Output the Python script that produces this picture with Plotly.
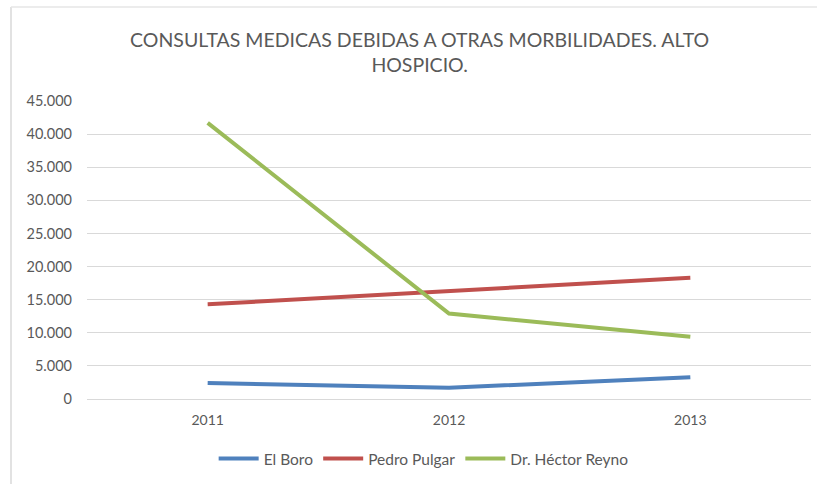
import plotly.graph_objects as go

years = ["2011", "2012", "2013"]
el_boro = [2400, 1700, 3300]
pedro_pulgar = [14300, 16300, 18300]
hector_reyno = [41700, 12900, 9400]
tick_vals = [0, 5000, 10000, 15000, 20000, 25000, 30000, 35000, 40000, 45000]
tick_text = ["0", "5.000", "10.000", "15.000", "20.000", "25.000", "30.000", "35.000", "40.000", "45.000"]

W, H = 818, 484
FONT = "Lato"
GRAY = "#595959"

fig = go.Figure()
for name, vals, col in [("El Boro", el_boro, "#4f81bd"),
                        ("Pedro Pulgar", pedro_pulgar, "#c0504d"),
                        ("Dr. Héctor Reyno", hector_reyno, "#9bbb59")]:
    fig.add_trace(go.Scatter(x=years, y=vals, name=name, mode="lines",
                             line=dict(color=col, width=4)))

L, R, T, B = 87, 811, 101, 399
fig.update_layout(
    width=W, height=H,
    margin=dict(l=L, r=W - R, t=T, b=H - B, autoexpand=False),
    paper_bgcolor="white", plot_bgcolor="white",
    font=dict(family=FONT, color=GRAY, size=14),
    title=dict(text="CONSULTAS MEDICAS DEBIDAS A OTRAS MORBILIDADES. ALTO<br>HOSPICIO.",
               x=0.513, xanchor="center", y=1 - 47 / H, yanchor="middle",
               font=dict(family=FONT, size=19.5, color=GRAY)),
    xaxis=dict(type="category", range=[-0.5, 2.5], showgrid=False,
               showline=True, linecolor="#d9d9d9", linewidth=1,
               ticks="", tickfont=dict(size=14, color=GRAY), ticklabelstandoff=8),
    yaxis=dict(range=[0, 45000], tickvals=tick_vals, ticktext=tick_text,
               showgrid=True, gridcolor="#d9d9d9", gridwidth=1,
               zeroline=False, showline=False, ticks="",
               tickfont=dict(size=14.5, color=GRAY), ticklabelstandoff=14),
    legend=dict(orientation="h", x=0.465, xanchor="center", y=-(459 - B) / (B - T),
                yanchor="middle", font=dict(size=15.5, color=GRAY),
                itemwidth=40, tracegroupgap=0),
    showlegend=True,
)
# outer chart-area border (left and top edges visible in the reference)
fig.add_shape(type="line", xref="paper", yref="paper",
              x0=(11 - L) / (R - L), x1=(11 - L) / (R - L),
              y0=(B - H) / (B - T), y1=(B - 7) / (B - T),
              line=dict(color="#d9d9d9", width=1.5))
fig.add_shape(type="line", xref="paper", yref="paper",
              x0=(11 - L) / (R - L), x1=(W - 1 - L) / (R - L),
              y0=(B - 7) / (B - T), y1=(B - 7) / (B - T),
              line=dict(color="#e6e6e6", width=1.5))

fig.write_html("out.html", config={"displayModeBar": False},
               post_script="document.body.style.margin='0px';document.body.style.overflow='hidden';document.documentElement.style.overflow='hidden';")
